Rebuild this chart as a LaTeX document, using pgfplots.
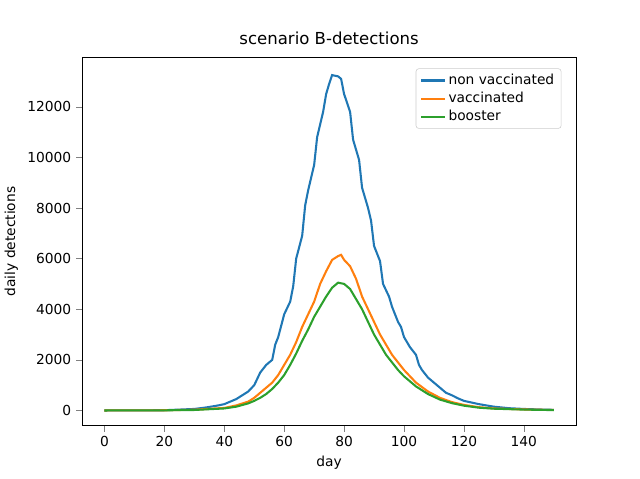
\documentclass[border=0pt]{standalone}
\usepackage{pgfplots}
\pgfplotsset{compat=1.18}
\usepackage{fontspec}
\setmainfont{DejaVu Sans}
\definecolor{c1}{HTML}{1F77B4}
\definecolor{c2}{HTML}{FF7F0E}
\definecolor{c3}{HTML}{2CA02C}
\begin{document}
\begin{tikzpicture}
\path (-0.8in,-0.528in) rectangle (5.6in,4.272in);
\begin{axis}[at={(0,0)},anchor=south west,scale only axis,width=4.96in,height=3.696in,
xmin=-7.5,xmax=157.5,ymin=-600,ymax=13950,
xtick={0,20,...,140},ytick={0,2000,...,12000},
/pgf/number format/assume math mode=true,
scaled y ticks=false,yticklabel style={/pgf/number format/1000 sep={}},
tick label style={font=\fontsize{10}{12}\selectfont},
label style={font=\fontsize{10}{12}\selectfont},
tick align=outside,tick pos=left,
title={scenario B-detections},title style={font=\fontsize{12}{14}\selectfont},
xlabel={day},ylabel={daily detections},
legend pos=north east,legend cell align=left,
legend style={font=\fontsize{10}{12}\selectfont,draw=black!20,rounded corners=2pt},
every axis plot/.append style={line width=1.5pt}]
\addplot[c1] coordinates {(0,0)(10,3)(20,10)(30,60)(34,120)(38,200)(40,250)(42,350)(44,450)(46,600)(48,750)(50,1000)(52,1500)(54,1800)(56,2000)(57,2600)(58,2900)(60,3800)(62,4300)(63,4900)(64,6000)(66,6900)(67,8100)(68,8700)(70,9700)(71,10800)(72,11300)(73,11800)(74,12500)(75,12900)(76,13250)(78,13200)(79,13100)(80,12500)(82,11800)(83,10700)(85,9900)(86,8800)(88,8000)(89,7500)(90,6500)(92,5900)(93,5000)(95,4500)(96,4100)(98,3500)(99,3300)(100,2900)(102,2500)(104,2200)(105,1800)(106,1600)(108,1300)(110,1100)(112,900)(114,700)(116,600)(118,480)(120,380)(125,250)(130,150)(135,90)(140,60)(145,40)(150,25)};
\addlegendentry{non vaccinated}
\addplot[c2] coordinates {(0,0)(20,8)(30,30)(40,100)(44,200)(48,350)(50,500)(52,700)(54,900)(56,1100)(58,1400)(60,1800)(62,2200)(64,2700)(66,3300)(68,3800)(70,4300)(72,5000)(74,5500)(76,5950)(78,6100)(79,6150)(80,5950)(82,5700)(84,5200)(86,4500)(88,4000)(90,3500)(92,3000)(94,2600)(96,2200)(98,1900)(100,1600)(104,1100)(108,750)(112,500)(116,330)(120,220)(125,130)(130,80)(140,40)(150,20)};
\addlegendentry{vaccinated}
\addplot[c3] coordinates {(0,0)(20,6)(30,20)(40,80)(44,150)(48,280)(50,380)(52,500)(54,650)(56,850)(58,1100)(60,1400)(62,1800)(64,2250)(66,2750)(68,3200)(70,3700)(72,4100)(74,4500)(76,4850)(78,5050)(80,5000)(82,4800)(84,4400)(86,4000)(88,3500)(90,3000)(92,2600)(94,2200)(96,1900)(98,1600)(100,1350)(104,950)(108,650)(112,430)(116,290)(120,190)(125,110)(130,70)(140,35)(150,15)};
\addlegendentry{booster}
\end{axis}
\end{tikzpicture}
\end{document}
